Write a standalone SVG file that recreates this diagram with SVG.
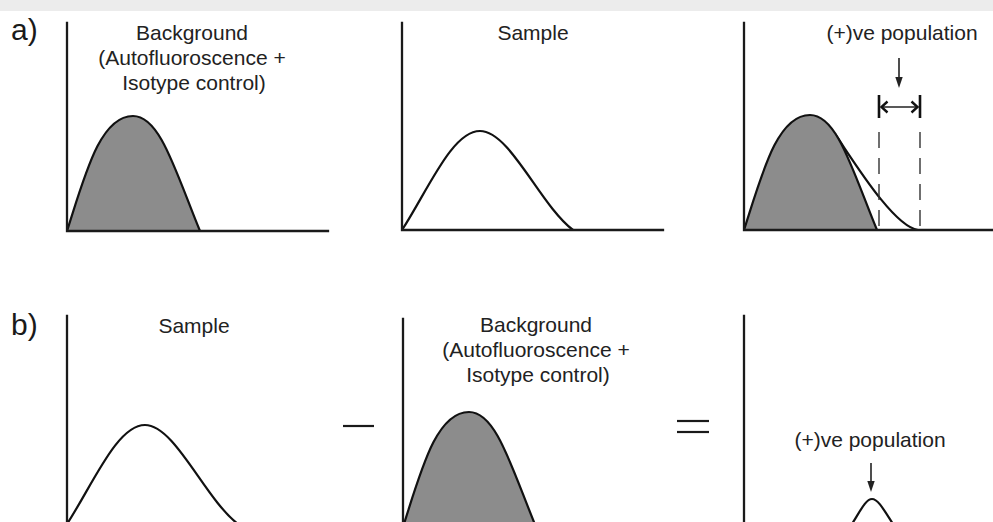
<svg xmlns="http://www.w3.org/2000/svg" width="993" height="522" viewBox="0 0 993 522">
<style>
.axis{stroke:#1a1a1a;stroke-width:2.3;fill:none;stroke-linecap:square}
.bg{fill:#8c8c8c;stroke:#111;stroke-width:2.2;stroke-linejoin:round}
.smp{fill:none;stroke:#111;stroke-width:2.2}
.lbl{font-family:"Liberation Sans",Arial,sans-serif;font-size:21px;fill:#222;text-anchor:middle}
.tag{font-family:"Liberation Sans",Arial,sans-serif;font-size:30px;fill:#1a1a1a}
.dash{stroke:#333;stroke-width:1.4;stroke-dasharray:16 10;fill:none}
.bar{stroke:#111;stroke-width:2.6}
.arr{stroke:#222;stroke-width:1.6;fill:none}
.head{stroke:#111;stroke-width:2.4;fill:none;stroke-linejoin:miter}
.op{stroke:#1a1a1a;stroke-width:2.2}
</style>
<defs>
<path id="bgc" d="M67,231 C85,175 100,116 133,116 C160,116 175,170 200,231 Z"/>
<path id="smc" d="M402,230 C428,190 452,131 480,131 C510,131 540,205 573,230"/>
</defs>
<rect x="0" y="0" width="993" height="11" fill="#ececec"/>
<g id="label-a"><text class="tag" x="11" y="40">a)</text></g>
<g id="label-b"><text class="tag" x="11" y="335">b)</text></g>
<g id="panel-a1">
<use href="#bgc" class="bg"/>
<path class="axis" d="M67,23 V231 H328"/>
<text class="lbl" x="192" y="39.5">Background</text>
<text class="lbl" x="192" y="65">(Autofluoroscence +</text>
<text class="lbl" x="194" y="90">Isotype control)</text>
</g>
<g id="panel-a2">
<use href="#smc" class="smp"/>
<path class="axis" d="M402,23 V230 H663"/>
<text class="lbl" x="533" y="39.5">Sample</text>
</g>
<g id="panel-a3">
<path class="smp" d="M835,134 C853,160 893,226 918,230"/>
<use href="#bgc" class="bg" transform="translate(677,-1)"/>
<path class="axis" d="M744,23 V230 H995"/>
<line class="dash" x1="879" y1="132" x2="879" y2="230"/>
<line class="dash" x1="920" y1="132" x2="920" y2="230"/>
<line class="bar" x1="879" y1="95" x2="879" y2="118"/>
<line class="bar" x1="920" y1="95" x2="920" y2="118"/>
<text class="lbl" x="902" y="39.5">(+)ve population</text>
</g>
<g id="panel-b1">
<use href="#smc" class="smp" transform="translate(-335,294)"/>
<path class="axis" d="M67,316 V524 H330"/>
<text class="lbl" x="194" y="333">Sample</text>
</g>
<g id="op-minus"><line class="op" x1="343" y1="426" x2="374" y2="426"/></g>
<g id="panel-b2">
<use href="#bgc" class="bg" transform="translate(336,296)"/>
<path class="axis" d="M403,319 V527 H660"/>
<text class="lbl" x="536" y="332">Background</text>
<text class="lbl" x="536" y="357">(Autofluoroscence +</text>
<text class="lbl" x="538" y="382">Isotype control)</text>
</g>
<g id="op-equals">
<line class="op" x1="677" y1="421" x2="709" y2="421"/>
<line class="op" x1="677" y1="432" x2="709" y2="432"/>
</g>
<g id="panel-b3">
<path class="smp" d="M848,530 C859,514 865,499 872,499 C879,499 886,514 897,530"/>
<path class="axis" d="M744,316 V527 H995"/>
<text class="lbl" x="870" y="447">(+)ve population</text>
</g>
<g id="connectors">
<line class="arr" x1="899" y1="58" x2="899" y2="80"/>
<polygon points="895.3,77 902.7,77 899,88" fill="#222"/>
<line class="arr" x1="881" y1="107" x2="918" y2="107" stroke-width="2"/>
<polyline class="head" points="887.5,101.5 881.5,107 887.5,112.5"/>
<polyline class="head" points="911.5,101.5 917.5,107 911.5,112.5"/>
<line class="arr" x1="871" y1="463" x2="871" y2="484"/>
<polygon points="867.3,481 874.7,481 871,492" fill="#222"/>
</g>
</svg>
